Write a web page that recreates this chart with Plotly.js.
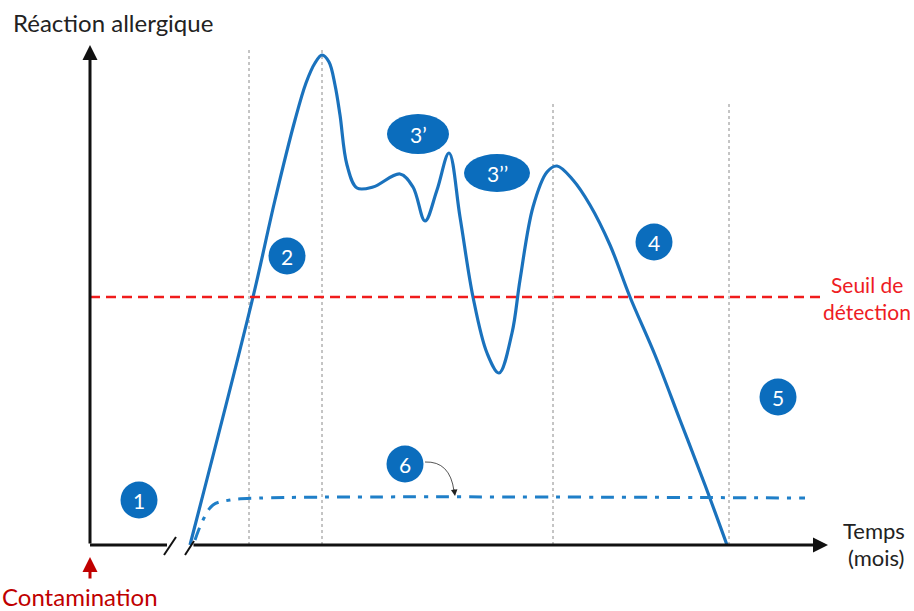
<!DOCTYPE html>
<html><head><meta charset="utf-8">
<script src="https://cdn.plot.ly/plotly-3.0.1.min.js"></script>
<style>html,body{margin:0;padding:0;background:#fff}#chart{width:914px;height:611px}</style>
</head><body><div id="chart"></div>
<script>
// Time (arbitrary, from contamination) and allergic reaction (arbitrary, from baseline)
const curveTime = [100,163,185,205,216,225,232,239,245,250,257,267,283,310,323,335,347,359,370,383,397,409,422,430,443,457,467,483,500,520,540,565,590,615,637];
const curveReaction = [0,248,345,425,462,482,490,483,460,430,380,357,358,371,358,324,355,392,328,248,192,172,212,265,338,373,379,365,340,300,248,190,125,60,0];
const toleranceTime = [105,113,123,140,170,715];
const toleranceReaction = [5,25,40,45,47,47];
const thresholdReaction = 248;
const thresholdRange = [0,730];
const phaseTimes = [159,232,463,639];
const phaseTops = [498,498,442,442];
const stepLabels = ['1','2','4','5','6'];
const stepTime = [49,197,564,688,315];
const stepReaction = [45,289,303,148,81];
const ovalLabels = ['3\u2019','3\u2019\u2019'];
const ovalTime = [328,407];
const ovalReaction = [411,372];

const blue = '#1a72bd', dark = '#0b6dbd';
const traces = [
  {x: curveTime, y: curveReaction, mode:'lines', line:{color:blue, width:3.2, shape:'spline', smoothing:1}, hoverinfo:'skip'},
  {x: toleranceTime, y: toleranceReaction, mode:'lines', line:{color:'#1f7fc8', width:3, shape:'spline', dash:'13px,8px,4px,8px'}, hoverinfo:'skip'},
  {x: thresholdRange, y: [thresholdReaction, thresholdReaction], mode:'lines', line:{color:'#f01c1c', width:2.5, dash:'10px,6px'}, hoverinfo:'skip'}
];
const shapes = [];
phaseTimes.forEach((t,i)=>shapes.push({type:'line', xref:'x', yref:'y', x0:t, x1:t, y0:0, y1:phaseTops[i], line:{color:'#8a8a8a', width:1, dash:'dot'}, layer:'below'}));
shapes.push({type:'line', x0:0, x1:77, y0:0, y1:0, line:{color:'#111', width:3}});
shapes.push({type:'line', x0:74, x1:86, y0:-10, y1:8, line:{color:'#111', width:2}});
shapes.push({type:'line', x0:95, x1:104, y0:-10, y1:4, line:{color:'#111', width:2}});
stepLabels.forEach((s,i)=>shapes.push({type:'circle', x0:stepTime[i]-18.5, x1:stepTime[i]+18.5, y0:stepReaction[i]-18.5, y1:stepReaction[i]+18.5, fillcolor:dark, line:{width:0}}));
shapes.push({type:'circle', x0:ovalTime[0]-31, x1:ovalTime[0]+31, y0:ovalReaction[0]-20, y1:ovalReaction[0]+20, fillcolor:dark, line:{width:0}});
shapes.push({type:'circle', x0:ovalTime[1]-33, x1:ovalTime[1]+33, y0:ovalReaction[1]-19, y1:ovalReaction[1]+19, fillcolor:dark, line:{width:0}});
shapes.push({type:'path', path:'M 335,83 Q 360,84 364,54', line:{color:'#555', width:1}});

const font = 'Lato, "Open Sans", sans-serif';
const ann = [];
stepLabels.forEach((s,i)=>ann.push({x:stepTime[i], y:stepReaction[i], text:s, showarrow:false, font:{family:font, size:21, color:'#fff'}}));
ovalLabels.forEach((s,i)=>ann.push({x:ovalTime[i], y:ovalReaction[i], text:s, showarrow:false, font:{family:font, size:21, color:'#fff'}}));
// axes arrows
ann.push({x:0, y:500, ax:0, ay:0, axref:'x', ayref:'y', xref:'x', yref:'y', text:'', showarrow:true, arrowhead:2, arrowsize:1, arrowwidth:3, arrowcolor:'#111', standoff:0});
ann.push({x:738, y:0, ax:102, ay:0, axref:'x', ayref:'y', xref:'x', yref:'y', text:'', showarrow:true, arrowhead:2, arrowsize:1, arrowwidth:3, arrowcolor:'#111', standoff:0});
ann.push({x:0, y:-12, ax:0, ay:-35, axref:'x', ayref:'y', text:'', showarrow:true, arrowhead:2, arrowsize:1, arrowwidth:3, arrowcolor:'#c00000', standoff:0});
ann.push({x:365, y:49, ax:364, ay:57, axref:'x', ayref:'y', text:'', showarrow:true, arrowhead:2, arrowsize:1.3, arrowwidth:1, arrowcolor:'#222', standoff:0});
// texts
ann.push({x:-79, y:523, xanchor:'left', text:'Réaction allergique', showarrow:false, font:{family:font, size:24, color:'#222'}});
ann.push({x:777, y:261, text:'Seuil de', showarrow:false, font:{family:font, size:21, color:'#ee1c24'}});
ann.push({x:777, y:234, text:'détection', showarrow:false, font:{family:font, size:21, color:'#ee1c24'}});
ann.push({x:784, y:15, text:'Temps', showarrow:false, font:{family:font, size:22, color:'#222'}});
ann.push({x:786, y:-12, text:'(mois)', showarrow:false, font:{family:font, size:22, color:'#222'}});
ann.push({x:-90, y:-51, xanchor:'left', text:'Contamination', showarrow:false, font:{family:font, size:24, color:'#c00000'}});

const ax = {visible:false, showgrid:false, zeroline:false, fixedrange:true};
Plotly.newPlot('chart', traces, {
  width:914, height:611, margin:{l:0,r:0,t:0,b:0}, showlegend:false,
  paper_bgcolor:'#fff', plot_bgcolor:'#fff',
  xaxis:Object.assign({range:[-90,824]}, ax),
  yaxis:Object.assign({range:[-66,545]}, ax),
  shapes:shapes, annotations:ann
}, {staticPlot:true});
</script></body></html>
